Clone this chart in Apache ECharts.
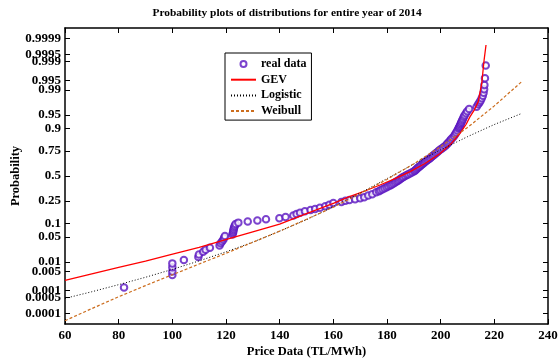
<!DOCTYPE html>
<html>
<head>
<meta charset="utf-8">
<script src="https://cdn.jsdelivr.net/npm/echarts@6/dist/echarts.min.js"></script>
<style>
  html, body { margin: 0; padding: 0; background: #fff; }
  #chart { width: 558px; height: 358px; }
</style>
</head>
<body>
<div id="chart"></div>
<script>
// Daily prices of 2014 (TL/MWh) with their empirical probabilities
const priceData = [
  82.0, 100.0, 100.0, 100.0, 100.0, 104.3, 109.7, 109.9, 111.5, 112.4,
  114.0, 117.6, 118.0, 118.5, 119.0, 119.3, 119.6, 122.4, 122.6, 122.7,
  122.8, 122.9, 123.1, 123.3, 123.6, 124.6, 128.1, 131.7, 134.9, 139.9,
  142.2, 145.1, 146.3, 147.6, 149.4, 151.5, 153.2, 155.0, 157.0, 158.5,
  160.0, 163.0, 164.5, 166.0, 168.1, 170.0, 171.5, 173.0, 174.5, 176.0,
  177.0, 177.6, 178.35, 179.1, 179.85, 180.5, 181.2, 181.8, 182.4, 183.0,
  183.55, 184.1, 184.6, 185.1, 185.6, 186.1, 186.75, 187.4, 188.0, 188.7,
  189.4, 190.1, 190.5, 190.85, 191.25, 191.65, 192.05, 192.5, 192.9, 193.4,
  193.8, 194.25, 194.75, 195.25, 195.8, 196.25, 196.75, 197.2, 197.7, 198.2,
  198.7, 199.2, 199.75, 200.35, 200.95, 201.6, 202.15, 202.55, 203.0, 203.45,
  203.9, 204.45, 205.0, 205.4, 205.8, 206.2, 206.6, 206.85, 207.05, 207.25,
  207.45, 207.65, 207.85, 208.1, 208.35, 208.65, 208.95, 209.4, 209.9, 210.6,
  213.4, 214.0, 214.5, 214.9, 215.3, 215.7, 216.0, 216.2, 216.3, 216.5,
  216.8
];
const probData = [
  0.0013, 0.0037, 0.0049, 0.0068, 0.0091, 0.0116, 0.0143, 0.0170, 0.0202, 0.0233,
  0.0262, 0.030, 0.0344, 0.0384, 0.0427, 0.0475, 0.0526, 0.0571, 0.0618, 0.0668,
  0.0721, 0.0778, 0.0838, 0.0901, 0.0968, 0.1038, 0.1093, 0.1151, 0.121, 0.127,
  0.1335, 0.1423, 0.1515, 0.161, 0.171, 0.179, 0.187, 0.195, 0.206, 0.218,
  0.233, 0.242, 0.251, 0.258, 0.264, 0.274, 0.284, 0.298, 0.312, 0.33,
  0.34, 0.35, 0.36, 0.37, 0.38, 0.39, 0.40, 0.41, 0.42, 0.43,
  0.44, 0.45, 0.46, 0.47, 0.48, 0.49, 0.50, 0.51, 0.52, 0.53,
  0.54, 0.55, 0.56, 0.57, 0.58, 0.59, 0.60, 0.61, 0.62, 0.63,
  0.64, 0.65, 0.66, 0.67, 0.68, 0.69, 0.70, 0.71, 0.72, 0.73,
  0.74, 0.75, 0.76, 0.77, 0.78, 0.79, 0.80, 0.81, 0.82, 0.83,
  0.84, 0.85, 0.86, 0.87, 0.88, 0.89, 0.90, 0.905, 0.91, 0.915,
  0.92, 0.925, 0.93, 0.935, 0.94, 0.945, 0.95, 0.955, 0.96, 0.965,
  0.9693, 0.9738, 0.9767, 0.9793, 0.9821, 0.985, 0.9878, 0.9904, 0.9931, 0.99585,
  0.9986
];

// Fitted GEV distribution
const gevPrice = [60, 70, 80, 90, 99, 110, 121.5, 129, 140, 150, 160, 166, 172, 177.4,
  183, 188.6, 194, 199.8, 204, 207.2, 209.5, 210.9, 212.5, 214, 215.3, 216.2, 216.9];
const gevProb = [0.0024, 0.0041, 0.0068, 0.0107, 0.0164, 0.0268, 0.046, 0.063, 0.0968, 0.154,
  0.23, 0.288, 0.345, 0.404, 0.472, 0.547, 0.63, 0.729, 0.811, 0.875, 0.919, 0.945,
  0.9625, 0.9778, 0.9938, 0.99916, 0.9998];

// Fitted logistic distribution
const logisticPrice = [60, 70, 80, 90, 100, 110, 120, 130, 140, 150, 160, 170, 180, 190, 200, 210, 220, 230];
const logisticProb = [0.00047, 0.00088, 0.00166, 0.0031, 0.0058, 0.0109, 0.0202, 0.037, 0.068,
  0.119, 0.203, 0.323, 0.472, 0.627, 0.76, 0.856, 0.918, 0.954];

// Fitted Weibull distribution
const weibullPrice = [60, 70, 80, 90, 100, 110, 120, 130, 140, 150, 160, 170, 180, 190, 200, 210, 220, 230];
const weibullProb = [0.000046, 0.00017, 0.00055, 0.00153, 0.0038, 0.0087, 0.0183, 0.0366, 0.068,
  0.121, 0.200, 0.316, 0.463, 0.629, 0.786, 0.905, 0.971, 0.9944];

// Probability axis tick labels
const probTicks = ['0.0001', '0.0005', '0.001', '0.005', '0.01', '0.05', '0.1', '0.25', '0.5',
  '0.75', '0.9', '0.95', '0.99', '0.995', '0.999', '0.9995', '0.9999'];

// Normal quantile function (Acklam) used as the probability axis scale
function probit(p) {
  const a = [-3.969683028665376e+01, 2.209460984245205e+02, -2.759285104469687e+02, 1.383577518672690e+02, -3.066479806614716e+01, 2.506628277459239e+00];
  const b = [-5.447609879822406e+01, 1.615858368580409e+02, -1.556989798598866e+02, 6.680131188771972e+01, -1.328068155288572e+01];
  const c = [-7.784894002430293e-03, -3.223964580411365e-01, -2.400758277161838e+00, -2.549732539343734e+00, 4.374664141464968e+00, 2.938163982698783e+00];
  const d = [7.784695709041462e-03, 3.224671290700398e-01, 2.445134137142996e+00, 3.754408661907416e+00];
  const pl = 0.02425, ph = 1 - pl;
  let q, r;
  if (p < pl) {
    q = Math.sqrt(-2 * Math.log(p));
    return (((((c[0]*q+c[1])*q+c[2])*q+c[3])*q+c[4])*q+c[5]) / ((((d[0]*q+d[1])*q+d[2])*q+d[3])*q+1);
  }
  if (p <= ph) {
    q = p - 0.5; r = q * q;
    return (((((a[0]*r+a[1])*r+a[2])*r+a[3])*r+a[4])*r+a[5])*q / (((((b[0]*r+b[1])*r+b[2])*r+b[3])*r+b[4])*r+1);
  }
  q = Math.sqrt(-2 * Math.log(1 - p));
  return -(((((c[0]*q+c[1])*q+c[2])*q+c[3])*q+c[4])*q+c[5]) / ((((d[0]*q+d[1])*q+d[2])*q+d[3])*q+1);
}

const pairs = (xs, ps) => xs.map((x, i) => [x, probit(ps[i])]);
const tickZ = probTicks.map(t => probit(parseFloat(t)));
function tickLabel(v) {
  let best = 0, bd = Infinity;
  tickZ.forEach((z, i) => { const dd = Math.abs(z - v); if (dd < bd) { bd = dd; best = i; } });
  return probTicks[best];
}

const FONT = 'Liberation Serif';
const frame = { show: true, onZero: false, lineStyle: { color: '#000', width: 1.5 } };
const tick = { show: true, inside: true, length: 5, lineStyle: { color: '#000', width: 1 } };
const labelFont = { fontFamily: FONT, fontWeight: 'bold', fontSize: 13, color: '#000' };
const nameFont = { fontFamily: FONT, fontWeight: 'bold', fontSize: 12.5, color: '#000' };
const DOT_COLOR = '#5a14c0';
const noIcon = { opacity: 0 };

const chart = echarts.init(document.getElementById('chart'), null, { renderer: 'canvas' });
chart.setOption({
  animation: false,
  backgroundColor: '#fff',
  title: {
    text: 'Probability plots of distributions for entire year of 2014',
    left: 287, top: 8, padding: 0, textAlign: 'center',
    textStyle: { fontFamily: FONT, fontWeight: 'bold', fontSize: 11.4, color: '#000' }
  },
  grid: { left: 65, right: 10, top: 28, bottom: 34, containLabel: false, outerBoundsMode: 'none' },
  legend: {
    orient: 'vertical', left: 225, top: 53,
    padding: [4, 5, 2, 5], itemWidth: 25, itemHeight: 6, itemGap: 1.7,
    backgroundColor: '#fff', borderColor: '#000', borderWidth: 1,
    textStyle: { fontFamily: FONT, fontWeight: 'bold', fontSize: 12, color: '#000', lineHeight: 14 },
    data: [
      { name: 'real data' },
      { name: 'GEV', itemStyle: noIcon },
      { name: 'Logistic', itemStyle: noIcon },
      { name: 'Weibull', itemStyle: noIcon }
    ]
  },
  xAxis: [
    {
      type: 'value', min: 60, max: 240, interval: 20, position: 'bottom',
      name: 'Price Data (TL/MWh)', nameLocation: 'middle', nameGap: 21, nameTextStyle: nameFont,
      nameMoveOverlap: false,
      axisLine: frame, axisTick: tick, splitLine: { show: false },
      axisLabel: Object.assign({ margin: 5 }, labelFont)
    },
    {
      type: 'value', min: 60, max: 240, interval: 20, position: 'top',
      axisLine: frame, axisTick: tick, splitLine: { show: false },
      axisLabel: { show: false }
    }
  ],
  yAxis: [
    {
      type: 'value', min: -4, max: 4, position: 'left',
      name: 'Probability', nameLocation: 'middle', nameGap: 43, nameRotate: 90, nameTextStyle: nameFont,
      nameMoveOverlap: false,
      axisLine: frame, splitLine: { show: false },
      axisTick: Object.assign({ customValues: tickZ }, tick),
      axisLabel: Object.assign({ customValues: tickZ, margin: 4, formatter: tickLabel, hideOverlap: false }, labelFont)
    },
    {
      type: 'value', min: -4, max: 4, position: 'right',
      axisLine: frame, splitLine: { show: false },
      axisTick: Object.assign({ customValues: tickZ }, tick),
      axisLabel: { show: false, customValues: tickZ }
    }
  ],
  series: [
    {
      name: 'real data', type: 'scatter', data: pairs(priceData, probData),
      symbol: 'emptyCircle', symbolSize: 6.5,
      itemStyle: { color: DOT_COLOR, borderColor: DOT_COLOR, borderWidth: 1.2 }
    },
    {
      name: 'GEV', type: 'line', data: pairs(gevPrice, gevProb), symbol: 'none', smooth: false,
      lineStyle: { color: '#ff0000', width: 1.3 }, itemStyle: { color: '#ff0000' }
    },
    {
      name: 'Logistic', type: 'line', data: pairs(logisticPrice, logisticProb), symbol: 'none',
      lineStyle: { color: '#000', width: 1, type: [1, 2] }, itemStyle: { color: '#000' }
    },
    {
      name: 'Weibull', type: 'line', data: pairs(weibullPrice, weibullProb), symbol: 'none',
      lineStyle: { color: '#cc6d1e', width: 1.2, type: [3, 2] }, itemStyle: { color: '#cc6d1e' }
    }
  ]
});
</script>
</body>
</html>
